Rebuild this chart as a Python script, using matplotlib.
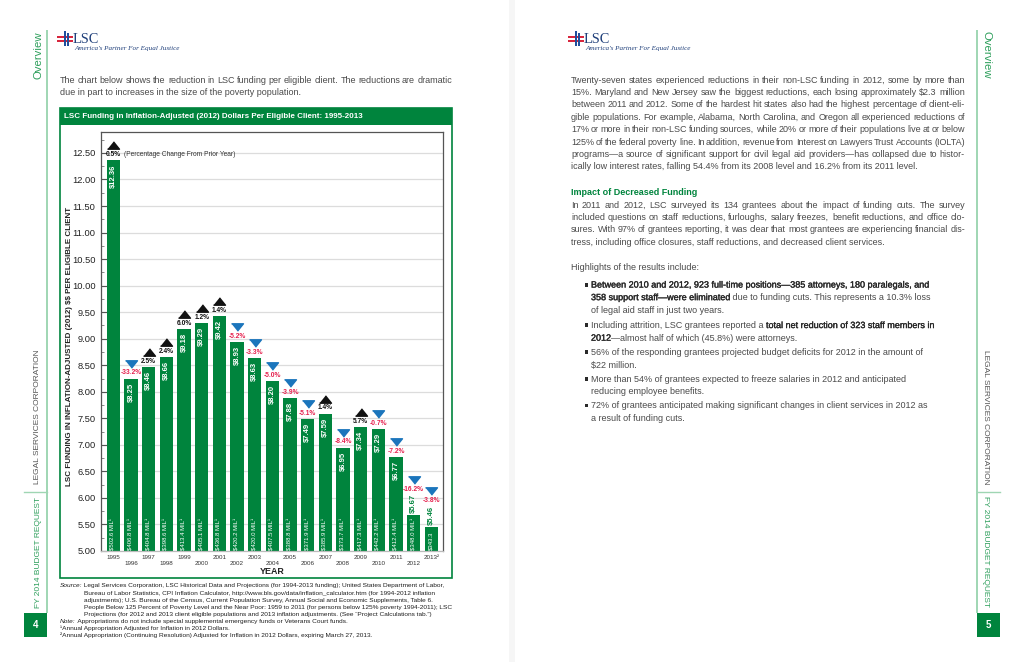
import matplotlib
matplotlib.use("Agg")
import matplotlib.pyplot as plt
from matplotlib.patches import Rectangle
from matplotlib import transforms
import matplotlib.patheffects as pe
import numpy as np

plt.rcParams['font.family'] = ['Liberation Sans', 'DejaVu Sans']
plt.rcParams['text.parse_math'] = False

# ---------------- data ----------------
year_labels = ["1995", "1996", "1997", "1998", "1999", "2000", "2001", "2002", "2003", "2004",
               "2005", "2006", "2007", "2008", "2009", "2010", "2011", "2012", "2013²"]
per_client = [12.36, 8.25, 8.46, 8.66, 9.18, 9.29, 9.42, 8.93, 8.63, 8.20,
              7.88, 7.49, 7.59, 6.95, 7.34, 7.29, 6.77, 5.67, 5.46]
pct_change = [0.5, -33.2, 2.5, 2.4, 6.0, 1.2, 1.4, -5.2, -3.3, -5.0,
              -3.9, -5.1, 1.4, -8.4, 5.7, -0.7, -7.2, -16.2, -3.8]
funding_labels = ["$502.6 MIL¹", "$406.8 MIL¹", "$404.8 MIL¹", "$398.6 MIL¹", "$413.4 MIL¹",
                  "$405.1 MIL¹", "$436.8 MIL¹", "$420.2 MIL¹", "$420.0 MIL¹", "$407.5 MIL¹",
                  "$388.8 MIL¹", "$371.9 MIL¹", "$385.9 MIL¹", "$373.7 MIL¹", "$417.3 MIL¹",
                  "$442.2 MIL¹", "$412.4 MIL¹", "$348.0 MIL¹", "$343.3"]
y_ticks = [5.0, 5.5, 6.0, 6.5, 7.0, 7.5, 8.0, 8.5, 9.0, 9.5, 10.0, 10.5, 11.0, 11.5, 12.0, 12.5]

GREEN = "#00843d"
LIGHTGREEN = "#9fd6b3"
SIDEGREEN = "#2e9f5c"
BLUE = "#1b75bc"
RED = "#e5204d"
BODY = "#4a4a4a"
DARK = "#1e1e1e"

W, H = 1024, 662
fig = plt.figure(figsize=(W / 100, H / 100), dpi=100)
fig.patch.set_facecolor("white")

ov = fig.add_axes([0, 0, 1, 1])
ov.set_xlim(0, W)
ov.set_ylim(H, 0)
ov.axis("off")
ov.set_zorder(0)

renderer = fig.canvas.get_renderer()


def twidth(s, **kw):
    t = ov.text(0, 0, "|" + s + "|", **kw)
    w1 = t.get_window_extent(renderer=renderer).width
    t.remove()
    t = ov.text(0, 0, "||", **kw)
    w2 = t.get_window_extent(renderer=renderer).width
    t.remove()
    return w1 - w2


def base_off(size):
    return size * 100 / 72 * 0.36


def draw_runs(x, y, runs, size, color=BODY):
    yb = y + base_off(size)
    for s, kw in runs:
        k = dict(fontsize=size, color=color, va="baseline", ha="left")
        fake_bold = kw.get("fake_bold", False)
        k.update({a: b for a, b in kw.items() if a != "fake_bold"})
        if fake_bold:
            k["path_effects"] = [pe.withStroke(linewidth=0.22, foreground=k["color"])]
        ov.text(x, yb, s, **k)
        kk = {a: b for a, b in k.items() if a in ("fontsize", "style", "fontweight", "family")}
        x += twidth(s, **kk)
    return x


def draw_justified(x, y, line, size, right, color=BODY):
    yb = y + base_off(size)
    words = line.split(" ")
    widths = [twidth(w, fontsize=size) for w in words]
    gap = (right - x - sum(widths)) / max(len(words) - 1, 1)
    for w, wd in zip(words, widths):
        ov.text(x, yb, w, fontsize=size, color=color, va="baseline", ha="left")
        x += wd + gap


def paragraph(x, y0, lines, size, right, step, color=BODY):
    for k, ln in enumerate(lines):
        y = y0 + k * step
        if k < len(lines) - 1:
            draw_justified(x, y, ln, size, right, color)
        else:
            ov.text(x, y + base_off(size), ln, fontsize=size, color=color, va="baseline", ha="left")


def logo(x0, y0):
    ov.add_patch(Rectangle((x0, y0 + 5), 16, 2.2, color="#d7263d", lw=0))
    ov.add_patch(Rectangle((x0, y0 + 8.5), 16, 2.2, color="#d7263d", lw=0))
    ov.add_patch(Rectangle((x0 + 6.5, y0), 2.2, 15, color="#1f4e9c", lw=0))
    ov.add_patch(Rectangle((x0 + 9.8, y0 + 2), 2.2, 13, color="#1f4e9c", lw=0))
    ov.text(x0 + 16, y0 + 12, "LSC", fontsize=10.3, family=["Liberation Serif"], color="#1f3f7a",
            va="baseline", ha="left")
    ov.text(x0 + 17, y0 + 17.5, "America's Partner For Equal Justice", fontsize=5.1,
            family=["Liberation Serif"], style="italic", color="#1f3f7a", va="center", ha="left")


def side(xc, line_x, outer, rot, num):
    ov.text(xc, 55, "Overview", rotation=rot, fontsize=8.2, color=SIDEGREEN,
            va="center", ha="center")
    ov.plot([line_x, line_x], [30, 613], color=LIGHTGREEN, lw=1.4, solid_capstyle="butt")
    ov.text(xc, 417, "LEGAL SERVICES CORPORATION", rotation=rot, fontsize=6.0, color="#555555",
            va="center", ha="center")
    ov.plot([line_x, outer], [492, 492], color=LIGHTGREEN, lw=1.0)
    ov.text(xc, 552, "FY 2014 BUDGET REQUEST", rotation=rot, fontsize=6.0, color=SIDEGREEN,
            va="center", ha="center")
    bx = min(line_x, outer)
    ov.add_patch(Rectangle((bx, 613), abs(outer - line_x), 24, color=GREEN, lw=0))
    ov.text(bx + abs(outer - line_x) / 2, 625, num, fontsize=7, color="white",
            fontweight="bold", va="center", ha="center")


# ---------------- page furniture ----------------
ov.add_patch(Rectangle((509, 0), 6, H, color="#f6f6f6", lw=0))
side(38, 47, 24, 90, "4")
side(986, 977, 1000, 270, "5")
logo(57, 31)
logo(568, 31)

BS = 6.5
# left intro
paragraph(60, 79.3, ["The chart below shows the reduction in LSC funding per eligible client. The reductions are dramatic",
                     "due in part to increases in the size of the poverty population."], BS, 452, 12.4)

# chart frame + title band
ov.add_patch(Rectangle((60, 108), 392, 470, fill=False, edgecolor=GREEN, lw=1.2))
ov.add_patch(Rectangle((60, 108), 392, 17, color=GREEN, lw=0))
ov.text(64, 116.8, "LSC Funding in Inflation-Adjusted (2012) Dollars Per Eligible Client: 1995-2013",
        fontsize=5.75, fontweight="bold", color="white", va="center", ha="left")

# ---------------- chart ----------------
ax = fig.add_axes([101 / W, 1 - 551 / H, 342 / W, 419 / H])
ax.set_zorder(3)
ax.patch.set_alpha(0)
idx = np.arange(len(per_client))
ax.bar(idx, per_client, width=0.75, color=GREEN, zorder=2)
ax.set_xlim(-0.70, 18.66)
ax.set_ylim(5.0, 12.895)
ax.set_yticks(y_ticks)
ax.set_yticklabels([f"{v:.2f}" for v in y_ticks])
ax.set_yticks(np.arange(5.25, 12.8, 0.5), minor=True)
ax.set_xticks([])
ax.yaxis.grid(True, color="#dcdcdc", lw=0.9)
ax.set_axisbelow(True)
ax.tick_params(axis="y", which="major", direction="in", length=4, width=0.8, color="#555555",
               labelsize=6.7, pad=4, labelcolor="#222222")
ax.tick_params(axis="y", which="minor", direction="in", length=2.5, width=0.6, color="#777777")
for sp in ax.spines.values():
    sp.set_color("#555555")
    sp.set_linewidth(0.9)
ax.spines["bottom"].set_color("#bbbbbb")

bt = transforms.blended_transform_factory(ax.transData, ax.transAxes)
for i, lab in enumerate(year_labels):
    yy = -6.5 / 419 if i % 2 == 0 else -12.5 / 419
    ax.text(i, yy, lab, transform=bt, fontsize=4.5, color="#333333", ha="center", va="center")
ax.text(0.5, -21 / 419, "YEAR", transform=ax.transAxes, fontsize=6.4, fontweight="bold",
        color="#222222", ha="center", va="center")

ov.text(70, 346, "LSC FUNDING IN INFLATION-ADJUSTED (2012) $$ PER ELIGIBLE CLIENT", rotation=90,
        fontsize=5.8, fontweight="bold", color="#222222", va="center", ha="center")

up_marker = [(-1, -0.62), (1, -0.62), (0, 0.62)]
down_marker = [(-1, 0.62), (1, 0.62), (0, -0.62)]
for i, (v, p, f) in enumerate(zip(per_client, pct_change, funding_labels)):
    extra = 0
    if i < 17:
        ax.annotate(f"${v:.2f}", (i, v), xytext=(0, -2.8), textcoords="offset points", rotation=90,
                    ha="center", va="top", color="white", fontweight="bold", fontsize=5.5, zorder=4)
    else:
        ax.annotate(f"${v:.2f}", (i, v), xytext=(0, 1.4), textcoords="offset points", rotation=90,
                    ha="center", va="bottom", color=GREEN, fontweight="bold", fontsize=5.5, zorder=4)
        extra = 15
    ax.text(i, 5.018, f, rotation=90, ha="center", va="bottom", color="white", fontsize=4.3, zorder=4)
    col = "#111111" if p > 0 else RED
    ax.annotate(f"{p:.1f}%", (i, v), xytext=(0, 4.0 + extra), textcoords="offset points",
                ha="center", va="center", color=col, fontweight="bold", fontsize=4.8,
                annotation_clip=False, zorder=4)
    tr = transforms.offset_copy(ax.transData, fig=fig, x=0, y=10.8 + extra, units="points")
    ax.plot([i], [v], transform=tr, marker=up_marker if p > 0 else down_marker, ms=8.6,
            color="#111111" if p > 0 else BLUE, ls="none", clip_on=False, zorder=3.5)
    if i == 0:
        ax.annotate("(Percentage Change From Prior Year)", (i, v), xytext=(7.6, 4.0),
                    textcoords="offset points", ha="left", va="center", color="#333333",
                    fontsize=4.8, annotation_clip=False)

# ---------------- sources ----------------
SRC = 4.65
draw_runs(60, 585, [("Source:", dict(style="italic")),
                    (" Legal Services Corporation, LSC Historical Data and Projections (for 1994-2013 funding); United States Department of Labor,", {})],
          SRC, DARK)
src_lines = ["Bureau of Labor Statistics, CPI Inflation Calculator, http://www.bls.gov/data/inflation_calculator.htm (for 1994-2012 inflation",
             "adjustments); U.S. Bureau of the Census, Current Population Survey, Annual Social and Economic Supplements, Table 6.",
             "People Below 125 Percent of Poverty Level and the Near Poor: 1959 to 2011 (for persons below 125% poverty 1994-2011); LSC",
             "Projections (for 2012 and 2013 client eligible populations and 2013 inflation adjustments. (See “Project Calculations tab.”)"]
for k, ln in enumerate(src_lines):
    draw_runs(84, 592.2 + k * 7.2, [(ln, {})], SRC, DARK)
draw_runs(60, 621, [("Note:", dict(style="italic")),
                    (" Appropriations do not include special supplemental emergency funds or Veterans Court funds.", {})],
          SRC, DARK)
draw_runs(60, 628, [("¹Annual Appropriation Adjusted for Inflation in 2012 Dollars.", {})], SRC, DARK)
draw_runs(60, 635, [("²Annual Appropriation (Continuing Resolution) Adjusted for Inflation in 2012 Dollars, expiring March 27, 2013.", {})],
          SRC, DARK)

# ---------------- right page ----------------
RX, RR = 571, 965
paragraph(RX, 79.3, [
    "Twenty-seven states experienced reductions in their non-LSC funding in 2012, some by more than",
    "15%. Maryland and New Jersey saw the biggest reductions, each losing approximately $2.3 million",
    "between 2011 and 2012. Some of the hardest hit states also had the highest percentage of client-eli-",
    "gible populations. For example, Alabama, North Carolina, and Oregon all experienced reductions of",
    "17% or more in their non-LSC funding sources, while 20% or more of their populations live at or below",
    "125% of the federal poverty line. In addition, revenue from Interest on Lawyers Trust Accounts (IOLTA)",
    "programs—a source of significant support for civil legal aid providers—has collapsed due to histor-",
    "ically low interest rates, falling 54.4% from its 2008 level and 16.2% from its 2011 level."],
    BS, RR, 12.4)
draw_runs(RX, 191.7, [("Impact of Decreased Funding", dict(fontweight="bold"))], 6.5, GREEN)
paragraph(RX, 204.3, [
    "In 2011 and 2012, LSC surveyed its 134 grantees about the impact of funding cuts. The survey",
    "included questions on staff reductions, furloughs, salary freezes, benefit reductions, and office clo-",
    "sures. With 97% of grantees reporting, it was clear that most grantees are experiencing financial dis-",
    "tress, including office closures, staff reductions, and decreased client services."],
    BS, RR, 12.45)
draw_runs(RX, 266.7, [("Highlights of the results include:", {})], BS, BODY)

B = dict(fake_bold=True, color="#262626")
bullets = [
    (284.3, [[("Between 2010 and 2012, 923 full-time positions—385 attorneys, 180 paralegals, and", B)],
             [("358 support staff—were eliminated", B), (" due to funding cuts. This represents a 10.3% loss", {})],
             [("of legal aid staff in just two years.", {})]]),
    (324.8, [[("Including attrition, LSC grantees reported a ", {}), ("total net reduction of 323 staff members in", B)],
             [("2012", B), ("—almost half of which (45.8%) were attorneys.", {})]]),
    (351.7, [[("56% of the responding grantees projected budget deficits for 2012 in the amount of", {})],
             [("$22 million.", {})]]),
    (378.4, [[("More than 54% of grantees expected to freeze salaries in 2012 and anticipated", {})],
             [("reducing employee benefits.", {})]]),
    (405.2, [[("72% of grantees anticipated making significant changes in client services in 2012 as", {})],
             [("a result of funding cuts.", {})]]),
]
for y0, lines in bullets:
    ov.add_patch(Rectangle((584.5, y0 - 1.6), 3.8, 3.8, color="#2a2a2a", lw=0))
    for k, runs in enumerate(lines):
        draw_runs(591, y0 + k * 12.6, runs, BS, BODY)

fig.savefig("out.png", dpi=100, facecolor="white")
